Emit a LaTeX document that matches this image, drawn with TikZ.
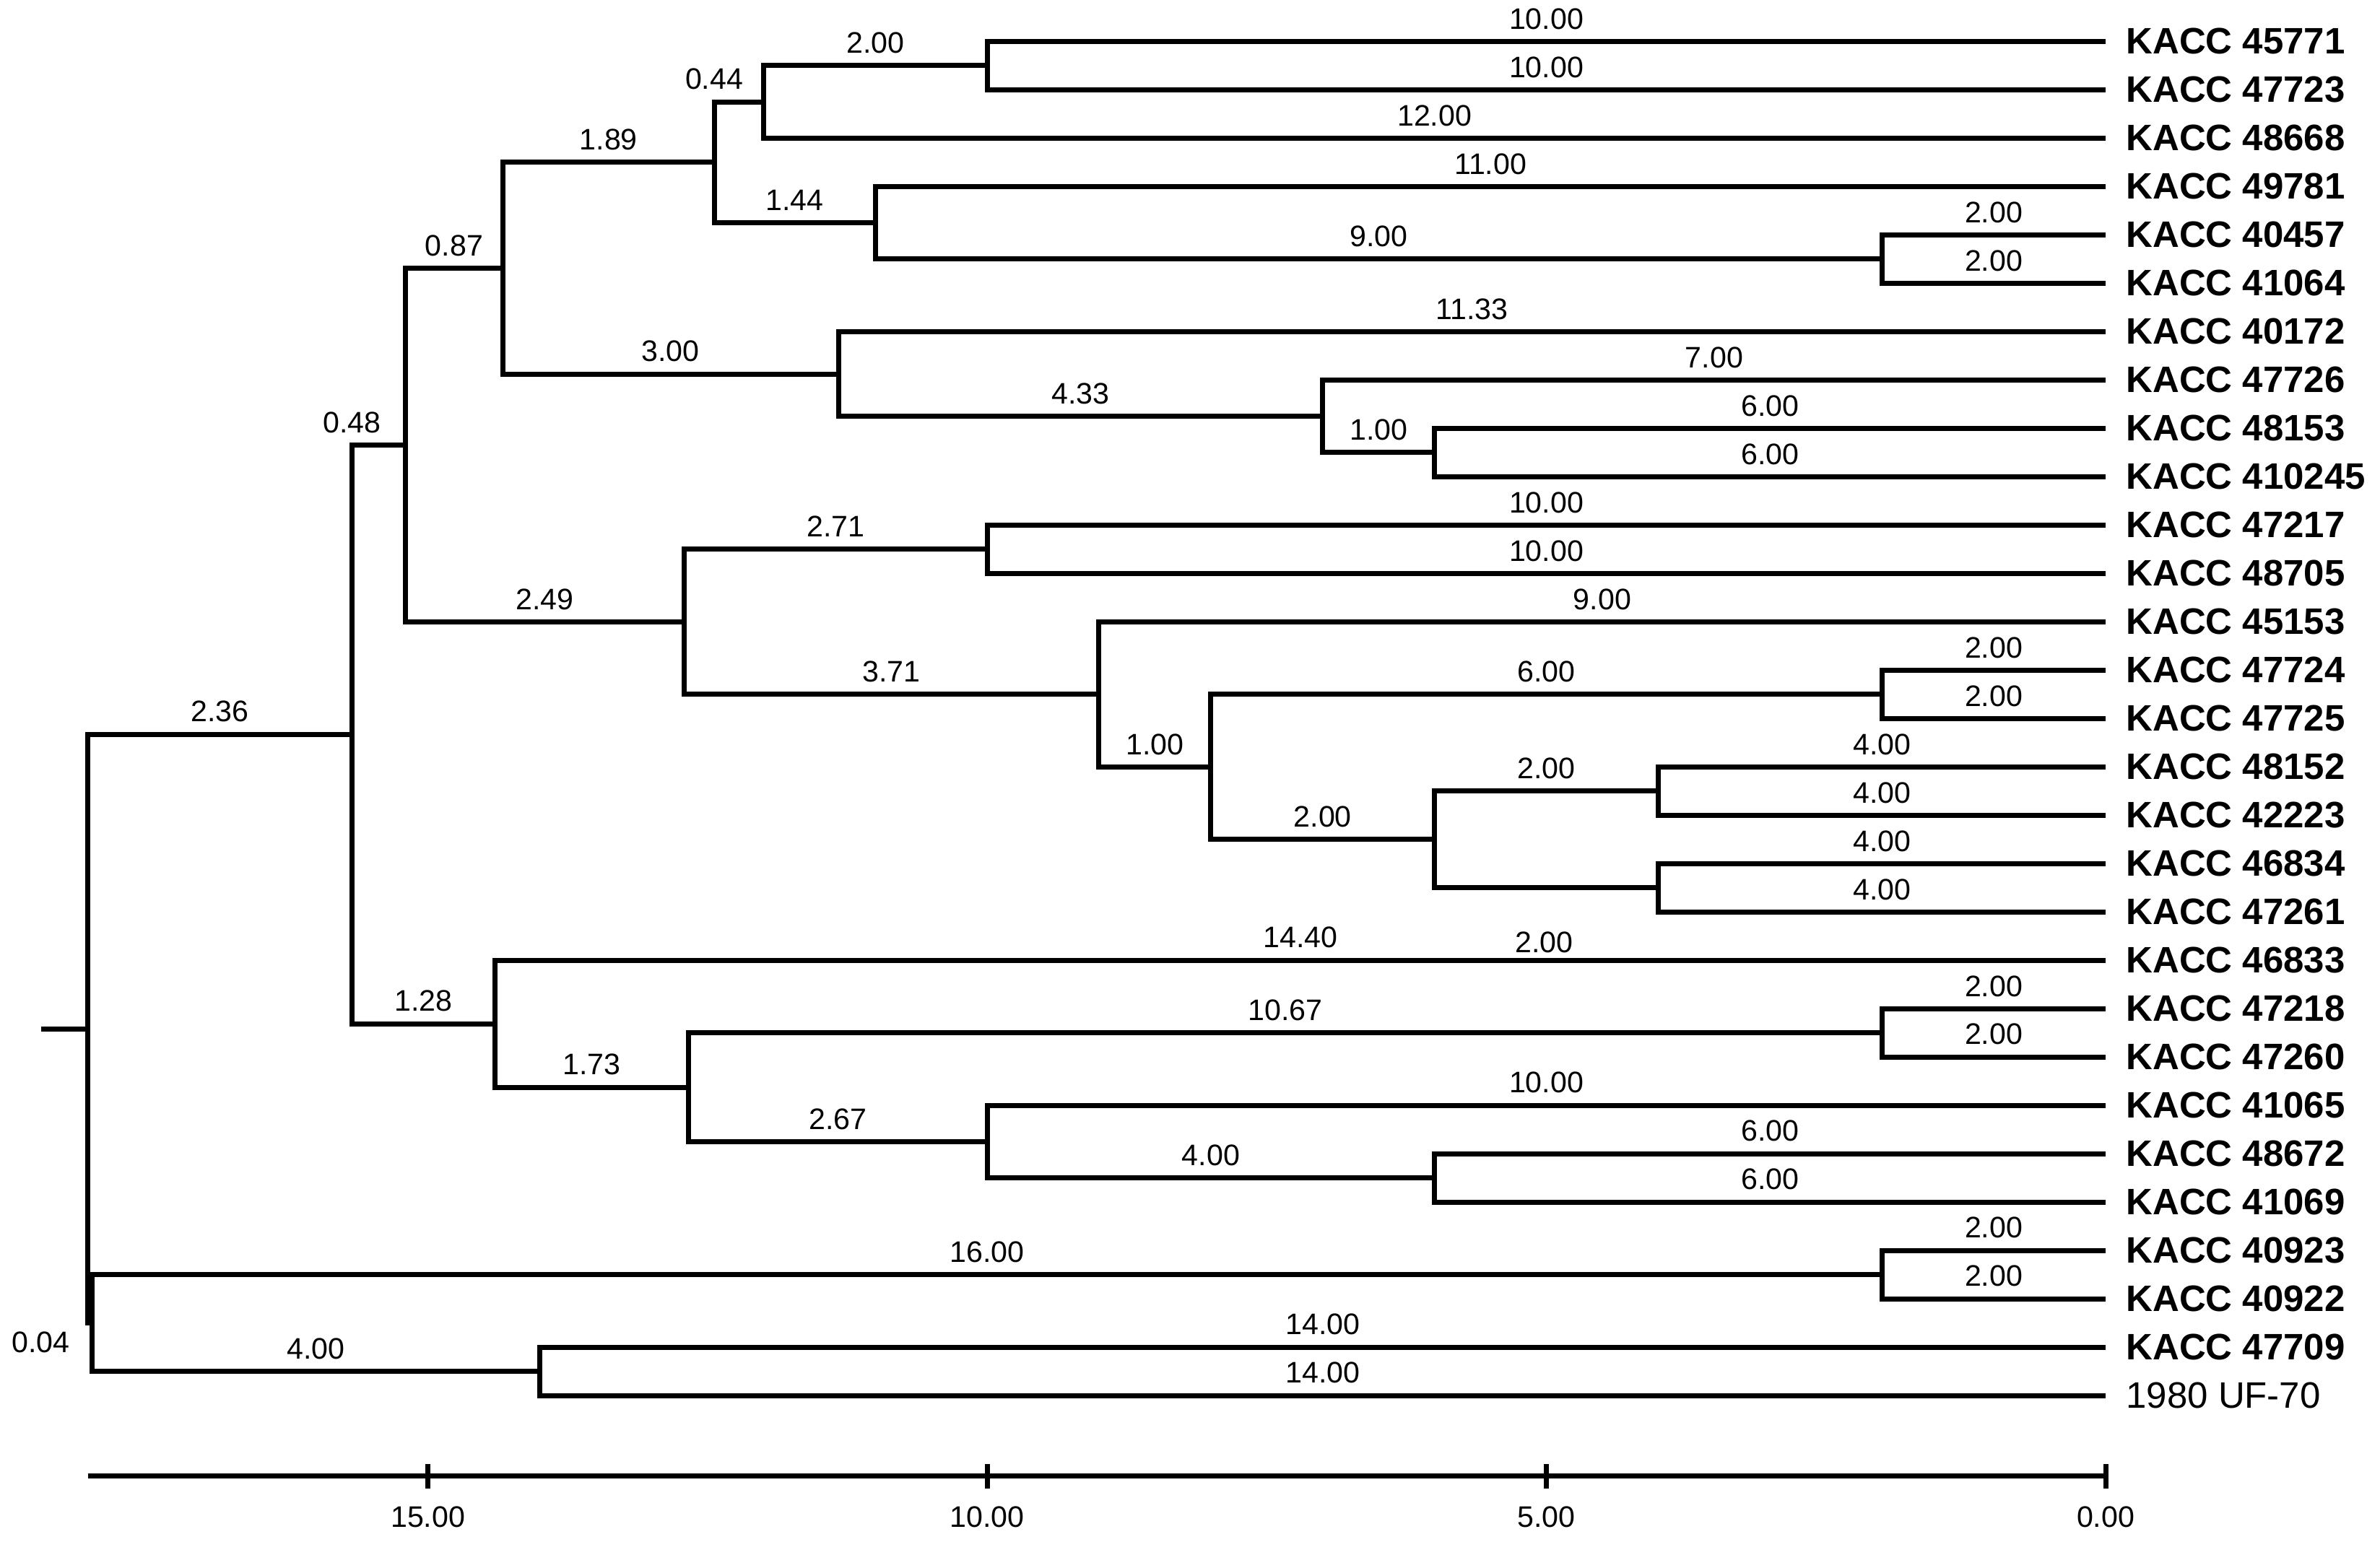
\documentclass[tikz,border=0pt]{standalone}
\usepackage{fontspec}
\setmainfont{Liberation Sans}
\usetikzlibrary{positioning}

\begin{document}
\begin{tikzpicture}[x={(-1.549cm,0)}, y={(0,-0.67cm)}, line width=2pt,
    lbl/.style={pos=0.75, above=0.5pt, font=\fontsize{11.7}{14}\selectfont},
    num/.style={font=\fontsize{11.7}{14}\selectfont},
    leaf/.style={inner sep=0pt, font=\fontsize{14.5}{17}\selectfont\bfseries}]
    \useasboundingbox (18.826,-0.857) rectangle (-2.453,31.01);

    % leaves
    \foreach \i in {0,...,28} \coordinate (l\i) at (0,\i);
    \foreach \i/\t in {0/45771,1/47723,2/48668,3/49781,4/40457,5/41064,6/40172,7/47726,8/48153,9/410245,
        10/47217,11/48705,12/45153,13/47724,14/47725,15/48152,16/42223,17/46834,18/47261,19/46833,
        20/47218,21/47260,22/41065,23/48672,24/41069,25/40923,26/40922,27/47709}
        \node[leaf, right=0.25cm of l\i] (t\i) {KACC \t};
    \node[leaf, font=\fontsize{14.5}{17}\selectfont, right=0.25cm of l28] (t28) {1980 UF-70};

    % clusters
    \coordinate (n1) at (10,0.5);
    \coordinate (n2) at (12,1.25);
    \coordinate (n3) at (2,4.5);
    \coordinate (n4) at (11,3.75);
    \coordinate (n5) at (12.44,2.5);
    \coordinate (n6) at (6,8.5);
    \coordinate (n7) at (7,7.75);
    \coordinate (n8) at (11.33,6.875);
    \coordinate (n9) at (14.33,4.6875);
    \coordinate (n10) at (10,10.5);
    \coordinate (n11) at (2,13.5);
    \coordinate (n12) at (4,15.5);
    \coordinate (n13) at (4,17.5);
    \coordinate (n14) at (6,16.5);
    \coordinate (n15) at (8,15);
    \coordinate (n16) at (9,13.5);
    \coordinate (n17) at (12.71,12);
    \coordinate (n18) at (15.2,8.344);
    \coordinate (n19) at (2,20.5);
    \coordinate (n20) at (6,23.5);
    \coordinate (n21) at (10,22.75);
    \coordinate (n22) at (12.67,21.625);
    \coordinate (n23) at (14.4,20.3125);
    \coordinate (n24) at (15.68,14.328);
    \coordinate (n25) at (2,25.5);
    \coordinate (n26) at (14,27.5);
    \coordinate (n27) at (18,26.5);
    \coordinate (rt) at (18.04,20.414);
    \coordinate (r0) at (18.46,20.414);

    \draw (n1) |- node[lbl] (e0) {10.00} (l0);
    \draw (n1) |- node[lbl] (e1) {10.00} (l1);
    \draw (n2) |- node[lbl] (e2) {2.00} (n1);
    \draw (n2) |- node[lbl] (e3) {12.00} (l2);
    \draw (n3) |- node[lbl] (e4) {2.00} (l4);
    \draw (n3) |- node[lbl] (e5) {2.00} (l5);
    \draw (n4) |- node[lbl] (e6) {11.00} (l3);
    \draw (n4) |- node[lbl] (e7) {9.00} (n3);
    \draw (n5) |- node[lbl, pos=0.5] (e8) {0.44} (n2);
    \draw (n5) |- node[lbl] (e9) {1.44} (n4);
    \draw (n6) |- node[lbl] (e10) {6.00} (l8);
    \draw (n6) |- node[lbl] (e11) {6.00} (l9);
    \draw (n7) |- node[lbl] (e12) {7.00} (l7);
    \draw (n7) |- node[lbl] (e13) {1.00} (n6);
    \draw (n8) |- node[lbl] (e14) {11.33} (l6);
    \draw (n8) |- node[lbl] (e15) {4.33} (n7);
    \draw (n9) |- node[lbl] (e16) {1.89} (n5);
    \draw (n9) |- node[lbl] (e17) {3.00} (n8);
    \draw (n10) |- node[lbl] (e18) {10.00} (l10);
    \draw (n10) |- node[lbl] (e19) {10.00} (l11);
    \draw (n11) |- node[lbl] (e20) {2.00} (l13);
    \draw (n11) |- node[lbl] (e21) {2.00} (l14);
    \draw (n12) |- node[lbl] (e22) {4.00} (l15);
    \draw (n12) |- node[lbl] (e23) {4.00} (l16);
    \draw (n13) |- node[lbl] (e24) {4.00} (l17);
    \draw (n13) |- node[lbl] (e25) {4.00} (l18);
    \draw (n14) |- node[lbl] (e26) {2.00} (n12);
    \draw (n14) |- (n13);
    \draw (n15) |- node[lbl] (e27) {6.00} (n11);
    \draw (n15) |- node[lbl] (e28) {2.00} (n14);
    \draw (n16) |- node[lbl] (e29) {9.00} (l12);
    \draw (n16) |- node[lbl] (e30) {1.00} (n15);
    \draw (n17) |- node[lbl] (e31) {2.71} (n10);
    \draw (n17) |- node[lbl] (e32) {3.71} (n16);
    \draw (n18) |- node[lbl] (e33) {0.87} (n9);
    \draw (n18) |- node[lbl] (e34) {2.49} (n17);
    \draw (n19) |- node[lbl] (e35) {2.00} (l20);
    \draw (n19) |- node[lbl] (e36) {2.00} (l21);
    \draw (n20) |- node[lbl] (e37) {6.00} (l23);
    \draw (n20) |- node[lbl] (e38) {6.00} (l24);
    \draw (n21) |- node[lbl] (e39) {10.00} (l22);
    \draw (n21) |- node[lbl] (e40) {4.00} (n20);
    \draw (n22) |- node[lbl] (e41) {10.67} (n19);
    \draw (n22) |- node[lbl] (e42) {2.67} (n21);
    \draw (n23) |- node[lbl] (e43) {14.40} (l19);
    \draw (n23) |- node[lbl] (e44) {1.73} (n22);
    \draw (n24) |- node[lbl, pos=0.5] (e45) {0.48} (n18);
    \draw (n24) |- node[lbl] (e46) {1.28} (n23);
    \draw (n25) |- node[lbl] (e47) {2.00} (l25);
    \draw (n25) |- node[lbl] (e48) {2.00} (l26);
    \draw (n26) |- node[lbl] (e49) {14.00} (l27);
    \draw (n26) |- node[lbl] (e50) {14.00} (l28);
    \draw (n27) |- node[lbl] (e51) {16.00} (n25);
    \draw (n27) |- node[lbl] (e52) {4.00} (n26);
    \draw (rt) |- node[lbl] (e53) {2.36} (n24);
    \draw (rt) |- (n27);
    \draw (r0) -- (rt);
    \node[num] (e54) at (18.46,26.9) {0.04};
    \node[num] (e55) at (5.02,18.62) {2.00};

    % scale
    \coordinate (a0) at (0,29.66);
    \coordinate (a1) at (18.04,29.66);
    \draw (a1) -- (a0);
    \foreach \v/\t in {0/0.00,5/5.00,10/10.00,15/15.00} {
        \draw (\v,29.41) -- (\v,29.92);
        \node[num] (s\v) at (\v,30.51) {\t};
    }
\end{tikzpicture}
\end{document}
